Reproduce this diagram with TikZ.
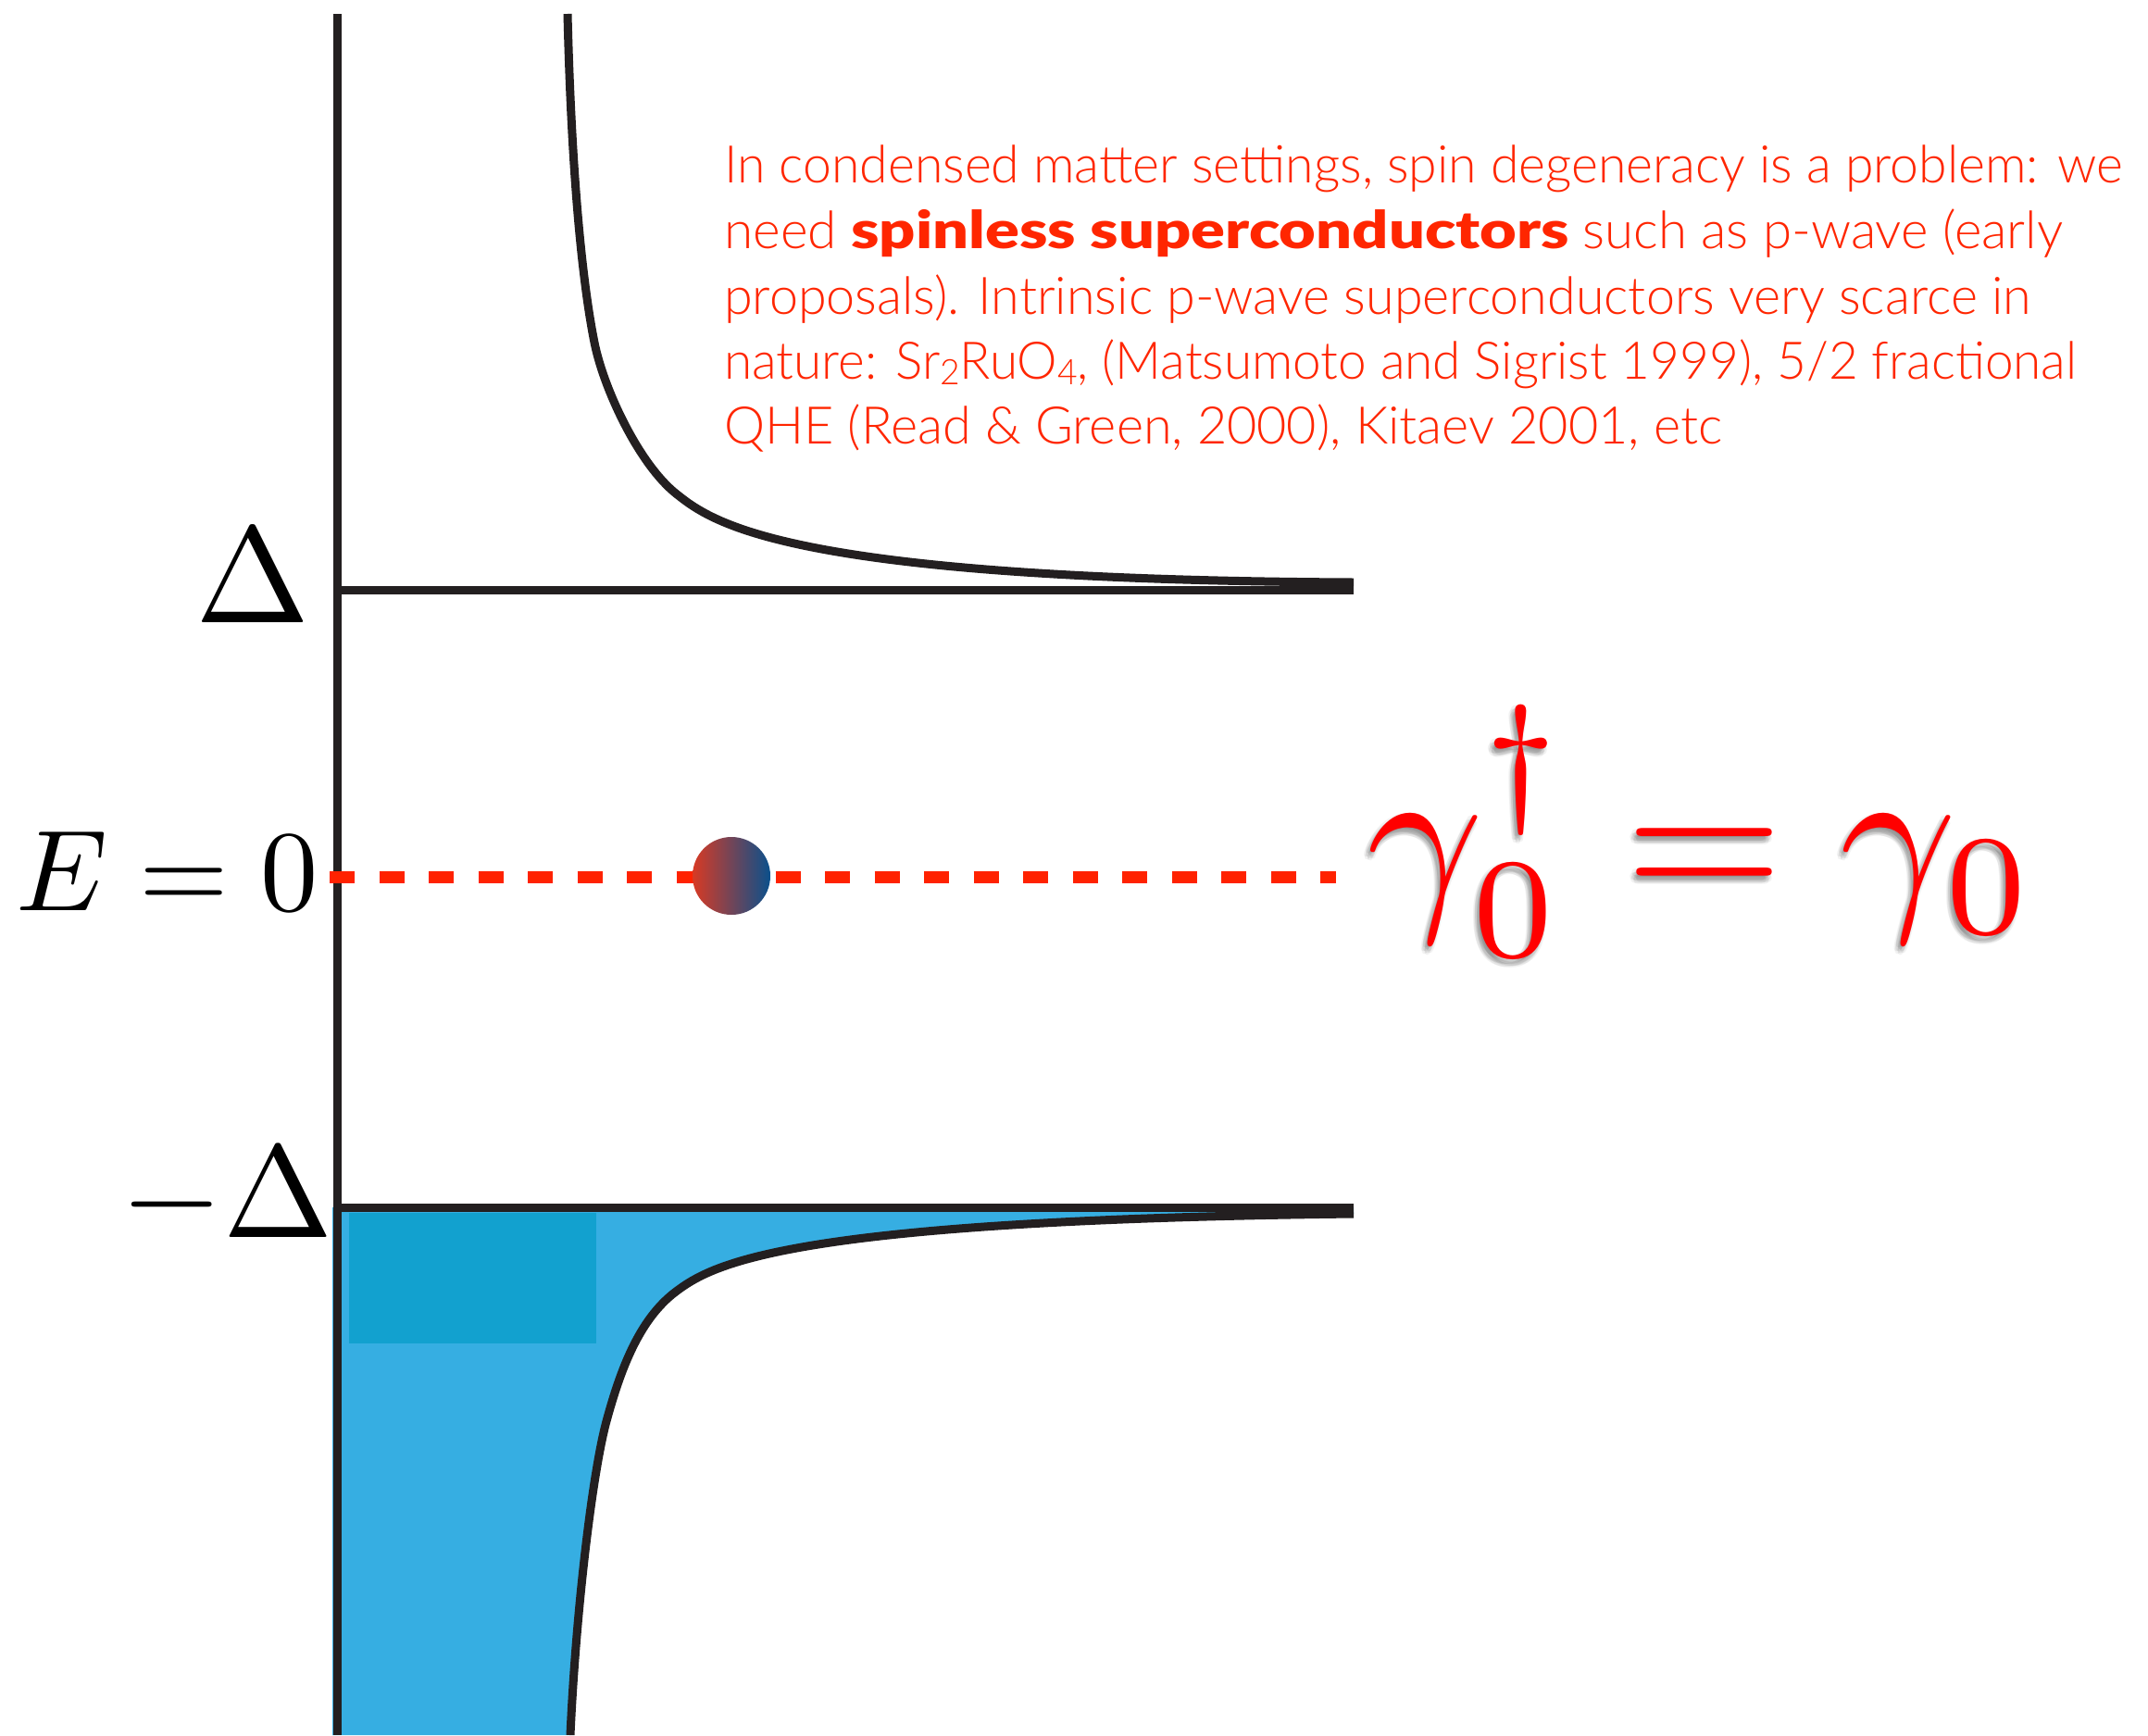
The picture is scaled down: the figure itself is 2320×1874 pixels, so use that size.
\documentclass[tikz,border=0pt]{standalone}
\usepackage[no-math]{fontspec}
\usepackage{graphicx}
\newfontfamily\gs{Lato Light}[BoldFont={Lato Black}]
\definecolor{txtred}{RGB}{255,38,0}
\definecolor{eqred}{RGB}{255,0,0}
\definecolor{ink}{RGB}{35,31,32}
\definecolor{dosblue}{RGB}{54,174,226}
\definecolor{dosdark}{RGB}{18,161,207}
\definecolor{dashred}{RGB}{255,34,0}
\definecolor{ballred}{RGB}{216,58,36}
\definecolor{ballblue}{RGB}{10,80,140}
\newcommand{\subnum}[1]{\raisebox{-0.12em}{\fontsize{38}{40}\selectfont #1}}
\newcommand{\majeq}{\scalebox{22}{$\gamma_0^\dagger=\gamma_0$}}
\begin{document}
\begin{tikzpicture}[x=1pt,y=-1pt,
  bodytext/.style={anchor=base west, inner sep=0pt, text=txtred, font=\gs\fontsize{56}{60}\selectfont},
  lbl/.style={inner sep=0pt, text=black},
  eqtext/.style={anchor=base west, inner sep=0pt, text=eqred},
  eqshadow/.style={anchor=base west, inner sep=0pt, text=black, text opacity=0.05},
  dosline/.style={draw=ink, line width=9pt},
  zeroline/.style={draw=dashred, line width=13pt, dash pattern=on 27pt off 26.5pt},
]
\useasboundingbox[fill=white] (0,0) rectangle (2320,1874);

% filled (occupied) states below -Delta
\fill[dosblue] (359,1304) -- (1462,1304) -- (1462,1311)
  .. controls (850,1318) and (770,1365) .. (730,1395)
  .. controls (690,1425) and (670,1480) .. (655,1535)
  .. controls (640,1590) and (622,1740) .. (616,1874)
  -- (359,1874) -- cycle;
\fill[dosdark] (377,1310) rectangle (644,1451);

% density of states curves
\draw[dosline] (613,15)
  .. controls (617,180) and (628,300) .. (642,370)
  .. controls (652,420) and (690,501) .. (730,533)
  .. controls (770,565) and (850,626) .. (1462,629);
\draw[dosline] (1462,1311)
  .. controls (850,1318) and (770,1365) .. (730,1395)
  .. controls (690,1425) and (670,1480) .. (655,1535)
  .. controls (640,1590) and (622,1740) .. (616,1874);

% gap edges and axis
\coordinate (axtop) at (364,15);
\coordinate (axbot) at (364,1874);
\coordinate (gapR) at (1462,637);
\coordinate (gapL) at (360,637);
\coordinate (mgapR) at (1462,1304);
\coordinate (mgapL) at (360,1304);
\draw[dosline] (gapL) -- (gapR);
\draw[dosline] (mgapL) -- (mgapR);
\draw[dosline] (axtop) -- (axbot);

% zero-energy line and Majorana state
\coordinate (zL) at (356,947);
\coordinate (zR) at (1443,947);
\draw[zeroline] (zL) -- (zR);
\node[circle, minimum size=84pt, inner sep=0pt, left color=ballred, right color=ballblue] (ball) at (790,946) {};

% axis labels
\node[lbl, anchor=base] (delta) at (273,672) {\scalebox{14.8}{$\Delta$}};
\node[lbl, anchor=base] (mdelta) at (245,1336) {\scalebox{14.2}{$-\Delta$}};
\node[lbl, anchor=base west] (ezero) at (17,983) {\scalebox{12.44}{$E=0$}};

% equation with soft shadow
\foreach \dx/\dy [count=\i] in {-3/3,-5/5,-1/5,-3/7,-5/1,-1/1,-7/5,-3/9,-6/8,0/7}
  \node[eqshadow] (eqs\i) at ({1476+\dx},{975+\dy}) {\majeq};
\node[eqtext] (eq) at (1476,975) {\majeq};

% explanatory text
\node[bodytext] (l1) at (782,197) {\resizebox{1510pt}{\height}{In condensed matter settings, spin degeneracy is a problem: we}};
\node[bodytext] (l2) at (782,268) {\resizebox{137pt}{\height}{need\ }\resizebox{775pt}{\height}{\textbf{spinless superconductors}}\resizebox{534pt}{\height}{\ such as p-wave (early}};
\node[bodytext] (l3) at (782,339) {\resizebox{1411pt}{\height}{proposals). Intrinsic p-wave superconductors very scarce in}};
\node[bodytext] (l4) at (782,409) {\resizebox{1461pt}{\height}{nature: Sr\subnum{2}RuO\subnum{4}, (Matsumoto and Sigrist 1999), 5/2 fractional}};
\node[bodytext] (l5) at (782,479) {\resizebox{1078pt}{\height}{QHE (Read \& Green, 2000), Kitaev 2001, etc}};
\end{tikzpicture}
\end{document}
